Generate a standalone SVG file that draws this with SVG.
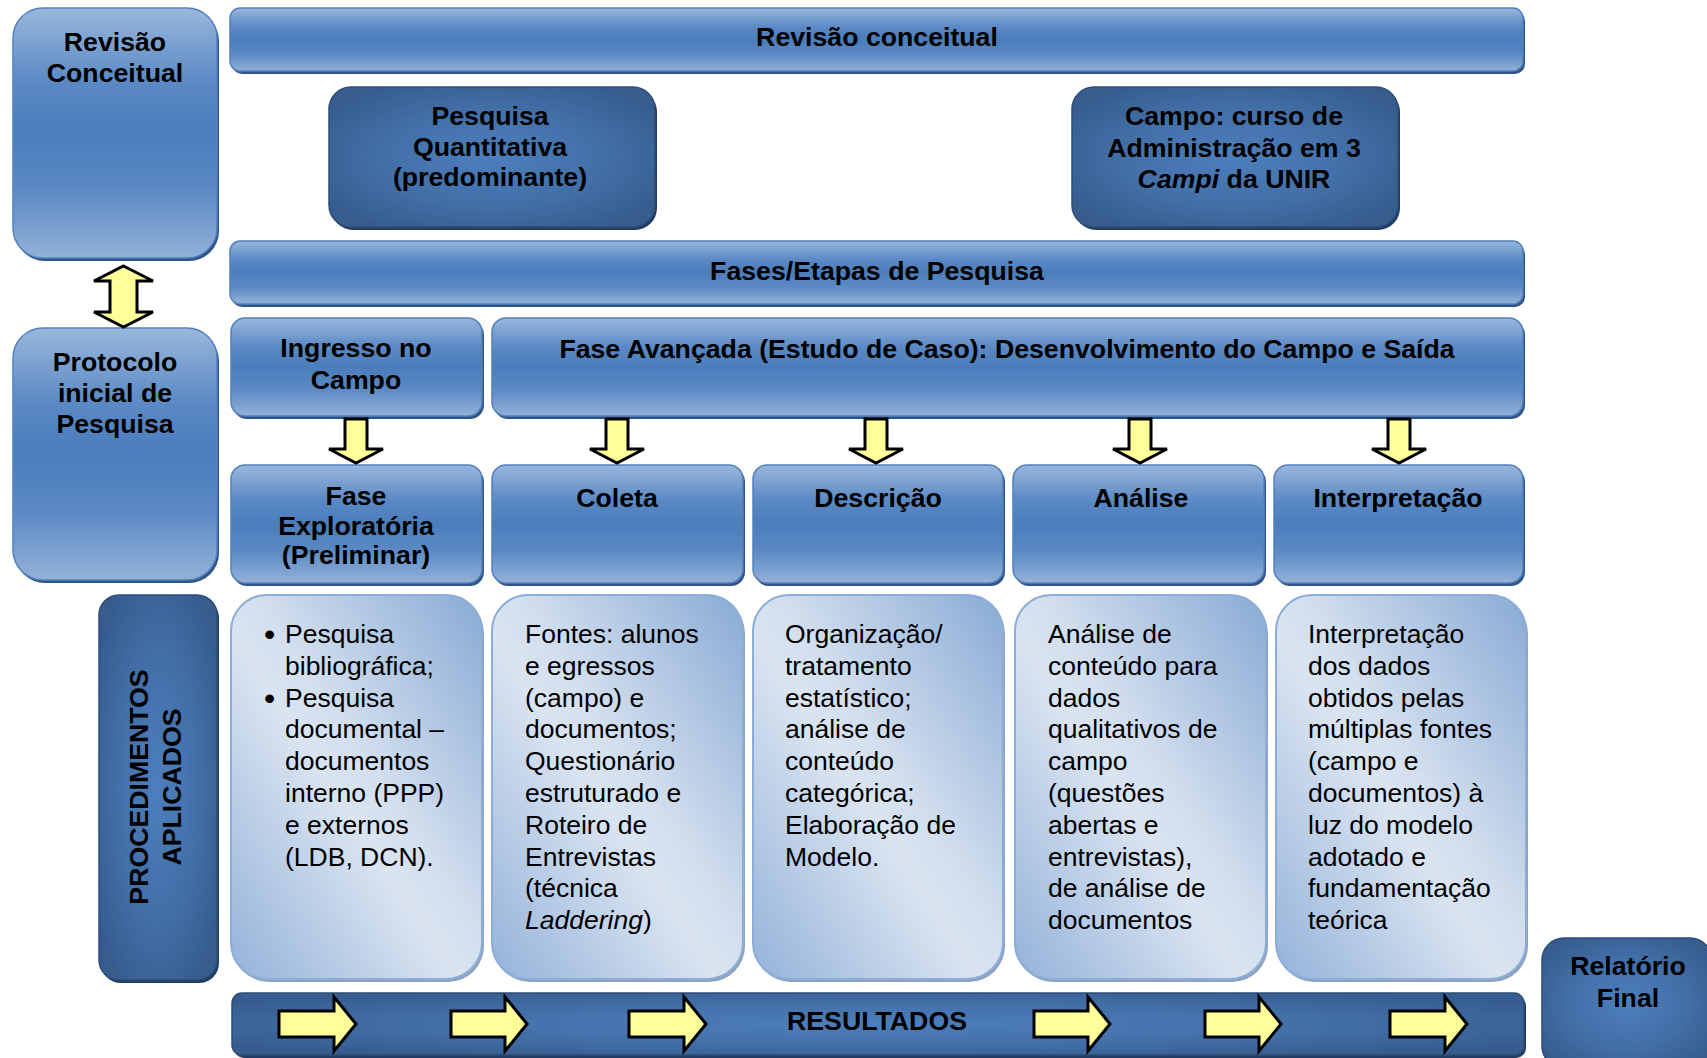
<svg xmlns="http://www.w3.org/2000/svg" width="1707" height="1058" viewBox="0 0 1707 1058">
<defs>
<linearGradient id="gMed" x1="0" y1="0" x2="0" y2="1">
<stop offset="0" stop-color="#9ab7dc"/>
<stop offset="0.3" stop-color="#5a89c4"/>
<stop offset="0.5" stop-color="#4b7dbb"/>
<stop offset="0.72" stop-color="#5a89c4"/>
<stop offset="1" stop-color="#93b1d8"/>
</linearGradient>
<radialGradient id="gDark" cx="0.5" cy="0.5" r="0.6">
<stop offset="0" stop-color="#4d7fbd"/>
<stop offset="0.6" stop-color="#426ea6"/>
<stop offset="1" stop-color="#365d8e"/>
</radialGradient>
<linearGradient id="gLight" x1="1" y1="0" x2="0" y2="1">
<stop offset="0" stop-color="#88aad5"/>
<stop offset="0.45" stop-color="#d3dfee"/>
<stop offset="0.55" stop-color="#dae4f1"/>
<stop offset="1" stop-color="#93b2d9"/>
</linearGradient>
</defs>
<style>
.med{fill:url(#gMed);stroke:#5281bd;stroke-width:1.5}
.medS{fill:#2f5485}
.dark{fill:url(#gDark);stroke:#2d4d78;stroke-width:1.5}
.darkS{fill:#213d63}
.light{fill:url(#gLight);stroke:#8cadd7;stroke-width:2}
.lightS{fill:#8ea2bf}
.hb{font-family:"Liberation Sans",Arial,sans-serif;font-weight:bold;font-size:26.7px;text-anchor:middle;fill:#000}
.bd{font-family:"Liberation Sans",Arial,sans-serif;font-size:26.5px;fill:#000}
.bul{font-family:"Liberation Sans",Arial,sans-serif;font-size:32px;fill:#000}
.yarr{fill:#ffff99;stroke:#000;stroke-width:3;stroke-linejoin:miter}
</style>

<g id="revisao-conceitual-left">
<rect class="medS" x="15" y="11" width="204" height="250" rx="30"/>
<rect class="med" x="13" y="8" width="204" height="250" rx="30"/>
<text class="hb" x="115" y="51">Revisão</text>
<text class="hb" x="115" y="82">Conceitual</text>
</g>

<g id="revisao-conceitual-bar">
<rect class="medS" x="232" y="11" width="1293" height="63" rx="10"/>
<rect class="med" x="230" y="8" width="1293" height="63" rx="10"/>
<text class="hb" x="877" y="46">Revisão conceitual</text>
</g>

<g id="pesquisa-quantitativa">
<rect class="darkS" x="331" y="90" width="326" height="140" rx="22"/>
<rect class="dark" x="329" y="87" width="326" height="140" rx="22"/>
<text class="hb" x="490" y="125">Pesquisa</text>
<text class="hb" x="490" y="156">Quantitativa</text>
<text class="hb" x="490" y="186">(predominante)</text>
</g>

<g id="campo">
<rect class="darkS" x="1074" y="90" width="326" height="140" rx="22"/>
<rect class="dark" x="1072" y="87" width="326" height="140" rx="22"/>
<text class="hb" x="1234" y="125">Campo: curso de</text>
<text class="hb" x="1234" y="157">Administração em 3</text>
<text class="hb" x="1234" y="188"><tspan font-style="italic">Campi</tspan> da UNIR</text>
</g>

<g id="fases-etapas">
<rect class="medS" x="232" y="244" width="1293" height="63" rx="10"/>
<rect class="med" x="230" y="241" width="1293" height="63" rx="10"/>
<text class="hb" x="877" y="280">Fases/Etapas de Pesquisa</text>
</g>

<g id="protocolo">
<rect class="medS" x="15" y="331" width="204" height="252" rx="30"/>
<rect class="med" x="13" y="328" width="204" height="252" rx="30"/>
<text class="hb" x="115" y="371">Protocolo</text>
<text class="hb" x="115" y="402">inicial de</text>
<text class="hb" x="115" y="433">Pesquisa</text>
</g>

<g id="ingresso">
<rect class="medS" x="233" y="321" width="251" height="98" rx="14"/>
<rect class="med" x="231" y="318" width="251" height="98" rx="14"/>
<text class="hb" x="356" y="357">Ingresso no</text>
<text class="hb" x="356" y="389">Campo</text>
</g>

<g id="fase-avancada">
<rect class="medS" x="494" y="321" width="1031" height="98" rx="14"/>
<rect class="med" x="492" y="318" width="1031" height="98" rx="14"/>
<text class="hb" x="1007" y="358">Fase Avançada (Estudo de Caso): Desenvolvimento do Campo e Saída</text>
</g>

<g id="fase-exploratoria">
<rect class="medS" x="233" y="468" width="251" height="118" rx="14"/>
<rect class="med" x="231" y="465" width="251" height="118" rx="14"/>
<text class="hb" x="356" y="505">Fase</text>
<text class="hb" x="356" y="535">Exploratória</text>
<text class="hb" x="356" y="564">(Preliminar)</text>
</g>

<g id="coleta">
<rect class="medS" x="494" y="468" width="251" height="118" rx="14"/>
<rect class="med" x="492" y="465" width="251" height="118" rx="14"/>
<text class="hb" x="617" y="507">Coleta</text>
</g>

<g id="descricao">
<rect class="medS" x="755" y="468" width="250" height="118" rx="14"/>
<rect class="med" x="753" y="465" width="250" height="118" rx="14"/>
<text class="hb" x="878" y="507">Descrição</text>
</g>

<g id="analise">
<rect class="medS" x="1015" y="468" width="251" height="118" rx="14"/>
<rect class="med" x="1013" y="465" width="251" height="118" rx="14"/>
<text class="hb" x="1141" y="507">Análise</text>
</g>

<g id="interpretacao">
<rect class="medS" x="1276" y="468" width="249" height="118" rx="14"/>
<rect class="med" x="1274" y="465" width="249" height="118" rx="14"/>
<text class="hb" x="1398" y="507">Interpretação</text>
</g>

<g id="procedimentos">
<rect class="darkS" x="101" y="598" width="118" height="385" rx="20"/>
<rect class="dark" x="99" y="595" width="118" height="385" rx="20"/>
<text class="hb" transform="translate(160,787) rotate(-90)"><tspan x="0" y="-12">PROCEDIMENTOS</tspan><tspan x="0" y="21">APLICADOS</tspan></text>
</g>

<g id="proc-exploratoria">
<rect class="lightS" x="233" y="598" width="251" height="384" rx="36"/>
<rect class="light" x="231" y="595" width="251" height="384" rx="36"/>
<text class="bul" x="264" y="645">•</text>
<text class="bul" x="264" y="709">•</text>
<text class="bd" x="285" y="643">Pesquisa</text>
<text class="bd" x="285" y="675">bibliográfica;</text>
<text class="bd" x="285" y="707">Pesquisa</text>
<text class="bd" x="285" y="738">documental –</text>
<text class="bd" x="285" y="770">documentos</text>
<text class="bd" x="285" y="802">interno (PPP)</text>
<text class="bd" x="285" y="834">e externos</text>
<text class="bd" x="285" y="866">(LDB, DCN).</text>
</g>

<g id="proc-coleta">
<rect class="lightS" x="494" y="598" width="251" height="384" rx="36"/>
<rect class="light" x="492" y="595" width="251" height="384" rx="36"/>
<text class="bd" x="525" y="643">Fontes: alunos</text>
<text class="bd" x="525" y="675">e egressos</text>
<text class="bd" x="525" y="707">(campo) e</text>
<text class="bd" x="525" y="738">documentos;</text>
<text class="bd" x="525" y="770">Questionário</text>
<text class="bd" x="525" y="802">estruturado e</text>
<text class="bd" x="525" y="834">Roteiro de</text>
<text class="bd" x="525" y="866">Entrevistas</text>
<text class="bd" x="525" y="897">(técnica</text>
<text class="bd" x="525" y="929"><tspan font-style="italic">Laddering</tspan>)</text>
</g>

<g id="proc-descricao">
<rect class="lightS" x="755" y="598" width="250" height="384" rx="36"/>
<rect class="light" x="753" y="595" width="250" height="384" rx="36"/>
<text class="bd" x="785" y="643">Organização/</text>
<text class="bd" x="785" y="675">tratamento</text>
<text class="bd" x="785" y="707">estatístico;</text>
<text class="bd" x="785" y="738">análise de</text>
<text class="bd" x="785" y="770">conteúdo</text>
<text class="bd" x="785" y="802">categórica;</text>
<text class="bd" x="785" y="834">Elaboração de</text>
<text class="bd" x="785" y="866">Modelo.</text>
</g>

<g id="proc-analise">
<rect class="lightS" x="1017" y="598" width="251" height="384" rx="36"/>
<rect class="light" x="1015" y="595" width="251" height="384" rx="36"/>
<text class="bd" x="1048" y="643">Análise de</text>
<text class="bd" x="1048" y="675">conteúdo para</text>
<text class="bd" x="1048" y="707">dados</text>
<text class="bd" x="1048" y="738">qualitativos de</text>
<text class="bd" x="1048" y="770">campo</text>
<text class="bd" x="1048" y="802">(questões</text>
<text class="bd" x="1048" y="834">abertas e</text>
<text class="bd" x="1048" y="866">entrevistas),</text>
<text class="bd" x="1048" y="897">de análise de</text>
<text class="bd" x="1048" y="929">documentos</text>
</g>

<g id="proc-interpretacao">
<rect class="lightS" x="1278" y="598" width="250" height="384" rx="36"/>
<rect class="light" x="1276" y="595" width="250" height="384" rx="36"/>
<text class="bd" x="1308" y="643">Interpretação</text>
<text class="bd" x="1308" y="675">dos dados</text>
<text class="bd" x="1308" y="707">obtidos pelas</text>
<text class="bd" x="1308" y="738">múltiplas fontes</text>
<text class="bd" x="1308" y="770">(campo e</text>
<text class="bd" x="1308" y="802">documentos) à</text>
<text class="bd" x="1308" y="834">luz do modelo</text>
<text class="bd" x="1308" y="866">adotado e</text>
<text class="bd" x="1308" y="897">fundamentação</text>
<text class="bd" x="1308" y="929">teórica</text>
</g>

<g id="resultados">
<rect class="darkS" x="234" y="996" width="1292" height="62" rx="10"/>
<rect class="dark" x="232" y="993" width="1292" height="62" rx="10"/>
<text class="hb" x="877" y="1030">RESULTADOS</text>
</g>

<g id="relatorio-final">
<rect class="darkS" x="1544" y="941" width="170" height="130" rx="22"/>
<rect class="dark" x="1542" y="938" width="170" height="130" rx="22"/>
<text class="hb" x="1628" y="975">Relatório</text>
<text class="hb" x="1628" y="1007">Final</text>
</g>

<g id="connectors">
<path class="yarr" d="M123.5,266 L153,281 H137 V312 H153 L123.5,327 L94,312 H110 V281 H94 Z"/>
<path class="yarr" d="M345,419 H367 V449 H383 L356,463 L329,449 H345 Z"/>
<path class="yarr" d="M606,419 H628 V449 H644 L617,463 L590,449 H606 Z"/>
<path class="yarr" d="M865,419 H887 V449 H903 L876,463 L849,449 H865 Z"/>
<path class="yarr" d="M1129,419 H1151 V449 H1167 L1140,463 L1113,449 H1129 Z"/>
<path class="yarr" d="M1388,419 H1410 V449 H1426 L1399,463 L1372,449 H1388 Z"/>
<path class="yarr" d="M279,1011 H334 V997 L356,1024 L334,1051 V1037 H279 Z"/>
<path class="yarr" d="M451,1011 H505 V997 L527,1024 L505,1051 V1037 H451 Z"/>
<path class="yarr" d="M629,1011 H684 V997 L706,1024 L684,1051 V1037 H629 Z"/>
<path class="yarr" d="M1034,1011 H1088 V997 L1110,1024 L1088,1051 V1037 H1034 Z"/>
<path class="yarr" d="M1205,1011 H1259 V997 L1281,1024 L1259,1051 V1037 H1205 Z"/>
<path class="yarr" d="M1390,1011 H1445 V997 L1467,1024 L1445,1051 V1037 H1390 Z"/>
</g>
</svg>
